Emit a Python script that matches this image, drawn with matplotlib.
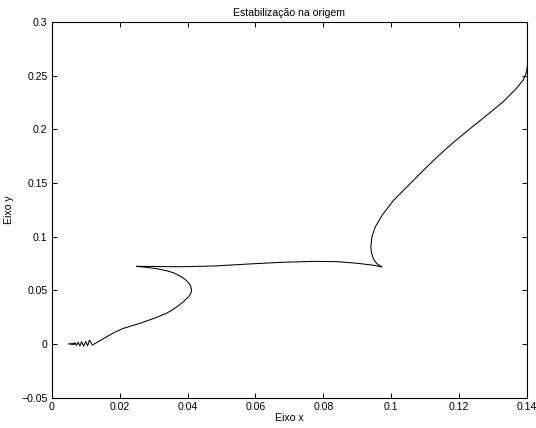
import matplotlib
matplotlib.use("Agg")
import matplotlib.pyplot as plt
from matplotlib.ticker import FixedLocator, FixedFormatter

plt.rcParams['font.family'] = ['Liberation Sans', 'DejaVu Sans']

# Trajectory, from the oscillating end near the origin outwards
x_vals = [
    0.0050, 0.0052, 0.0054, 0.0056, 0.0058, 0.0060, 0.0062, 0.0064, 0.0066,
    0.0069, 0.0073, 0.0078, 0.0083, 0.0088, 0.0094, 0.0100, 0.0106, 0.0111, 0.0120,
    0.0142, 0.0162, 0.0187, 0.0211, 0.0260, 0.0309, 0.0339, 0.0358, 0.0373, 0.0388,
    0.0403, 0.0410, 0.0412, 0.0409, 0.0403, 0.0393, 0.0378, 0.0358, 0.0334,
    0.0309, 0.0280, 0.0250,
    0.0290, 0.0330, 0.0380, 0.0479, 0.0577, 0.0675, 0.0773, 0.0842, 0.0901,
    0.0950, 0.0973,
    0.0958, 0.0948, 0.0942, 0.0940, 0.0943, 0.0953, 0.0973, 0.1007, 0.1046, 0.1090,
    0.1135, 0.1182, 0.1231, 0.1281, 0.1330, 0.1369, 0.1389, 0.1399, 0.1400,
]
y_vals = [
    0.0000, 0.0004, -0.0003, 0.0005, -0.0004, 0.0006, -0.0005, 0.0007, -0.0006,
    0.0012, -0.0013, 0.0017, -0.0019, 0.0022, -0.0021, 0.0024, -0.0016, 0.0036, -0.0009,
    0.0031, 0.0068, 0.0112, 0.0146, 0.0193, 0.0248, 0.0288, 0.0323, 0.0357, 0.0394,
    0.0441, 0.0472, 0.0503, 0.0540, 0.0571, 0.0602, 0.0634, 0.0665, 0.0686,
    0.0702, 0.0714, 0.0724,
    0.0723, 0.0721, 0.0720, 0.0727, 0.0745, 0.0761, 0.0770, 0.0767, 0.0752,
    0.0733, 0.0717,
    0.0748, 0.0790, 0.0850, 0.0904, 0.0997, 0.1090, 0.1199, 0.1339, 0.1463, 0.1603,
    0.1742, 0.1875, 0.2003, 0.2130, 0.2258, 0.2382, 0.2460, 0.2537, 0.2580,
]

x_ticks = [0, 0.02, 0.04, 0.06, 0.08, 0.1, 0.12, 0.14]
x_tick_labels = ["0", "0.02", "0.04", "0.06", "0.08", "0.1", "0.12", "0.14"]
y_ticks = [-0.05, 0, 0.05, 0.1, 0.15, 0.2, 0.25, 0.3]
y_tick_labels = ["\u22120.05", "0", "0.05", "0.1", "0.15", "0.2", "0.25", "0.3"]

title_text = "Estabilização na origem"
xlabel_text = "Eixo x"
ylabel_text = "Eixo y"

fig = plt.figure(figsize=(5.36, 4.28), dpi=100)
ax = fig.add_axes([51.7 / 536, (428 - 397.7) / 428, 475.3 / 536, 375.7 / 428])

ax.plot(x_vals, y_vals, color='black', linewidth=0.75, solid_joinstyle='round')

ax.set_xlim(0, 0.14)
ax.set_ylim(-0.05, 0.3)
ax.xaxis.set_major_locator(FixedLocator(x_ticks))
ax.xaxis.set_major_formatter(FixedFormatter(x_tick_labels))
ax.yaxis.set_major_locator(FixedLocator(y_ticks))
ax.yaxis.set_major_formatter(FixedFormatter(y_tick_labels))

ax.tick_params(direction='in', length=3.6, width=0.7, top=True, right=True,
               labelsize=7.6, pad=3, colors='black')
for s in ax.spines.values():
    s.set_linewidth(0.8)
    s.set_color('black')

ax.set_title(title_text, fontsize=7.6, pad=4)
ax.set_xlabel(xlabel_text, fontsize=7.6, labelpad=1)
ax.set_ylabel(ylabel_text, fontsize=7.6, labelpad=5)

fig.savefig("out.png", dpi=100)
